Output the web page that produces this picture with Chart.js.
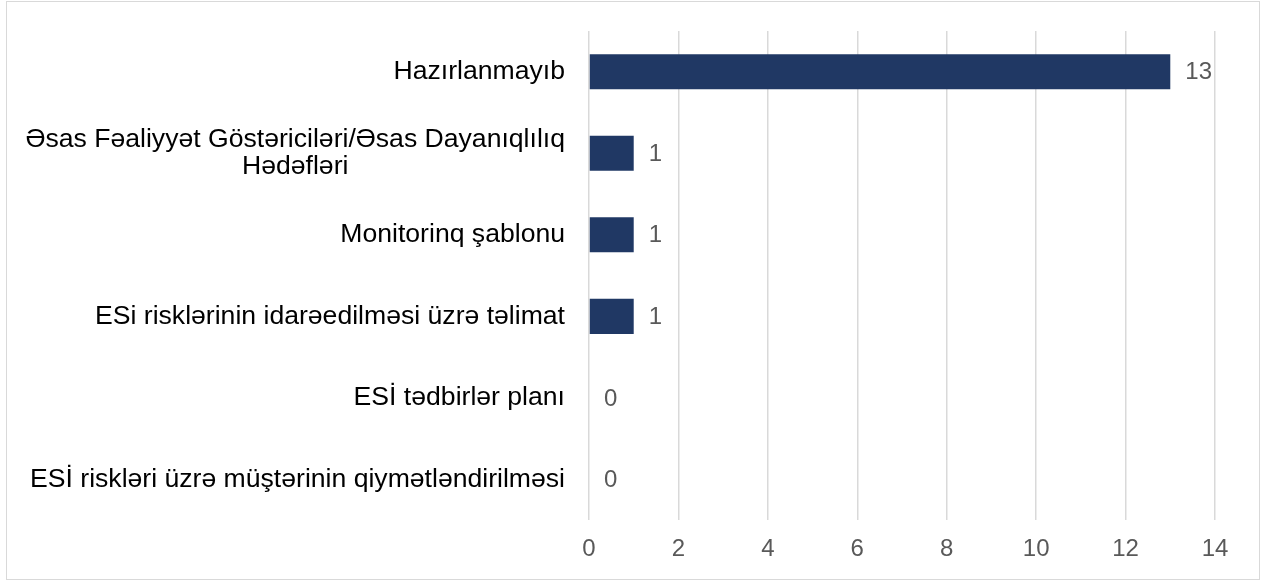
<!DOCTYPE html>
<html>
<head>
<meta charset="utf-8">
<script src="https://cdn.jsdelivr.net/npm/chart.js@4/dist/chart.umd.min.js"></script>
<style>
    body { margin: 0; background: #fff; }
    #frame {
        position: absolute; left: 6px; top: 1px;
        width: 1254px; height: 579px;
        border: 1px solid #d9d9d9; box-sizing: border-box;
    }
    #box { position: absolute; left: 0; top: 0; width: 1252px; height: 577px; }
</style>
</head>
<body>
<div id="frame"><div id="box"><canvas id="chart"></canvas></div></div>
<script>
// Données
const categories = [
    ['Hazırlanmayıb'],
    ['Əsas Fəaliyyət Göstəriciləri/Əsas Dayanıqlılıq', 'Hədəfləri'],
    ['Monitorinq şablonu'],
    ['ESi risklərinin idarəedilməsi üzrə təlimat'],
    ['ESİ tədbirlər planı'],
    ['ESİ riskləri üzrə müştərinin qiymətləndirilməsi']
];
const values = [13, 1, 1, 1, 0, 0];
const xTicks = [0, 2, 4, 6, 8, 10, 12, 14];

const FONT = '"Liberation Sans", Arial, sans-serif';

// --------------------------------------------------------------------------

// Libellés des catégories (lignes centrées entre elles, bloc aligné à droite)
const categoryLabels = {
    id: 'categoryLabels',
    afterDraw: chart => {
        const ctx = chart.ctx;
        const y = chart.scales.y;
        const right = chart.chartArea.left - 24;
        const lineH = 27;
        ctx.save();
        ctx.font = `26.6px ${FONT}`;
        ctx.fillStyle = '#000000';
        ctx.textAlign = 'center';
        ctx.textBaseline = 'middle';
        categories.forEach((lines, i) => {
            const cy = y.getPixelForValue(i);
            const maxW = Math.max(...lines.map(l => ctx.measureText(l).width));
            const cx = right - maxW / 2;
            const top = cy - (lines.length - 1) * lineH / 2;
            lines.forEach((l, j) => ctx.fillText(l, cx, top + j * lineH));
        });
        ctx.restore();
    }
};

// Valeurs au bout des barres
const valueLabels = {
    id: 'valueLabels',
    afterDatasetsDraw: chart => {
        const ctx = chart.ctx;
        const meta = chart.getDatasetMeta(0);
        ctx.save();
        ctx.font = `24px ${FONT}`;
        ctx.fillStyle = '#595959';
        ctx.textAlign = 'left';
        ctx.textBaseline = 'middle';
        meta.data.forEach((bar, i) => {
            ctx.fillText(String(values[i]), bar.x + 15, bar.y + 1);
        });
        ctx.restore();
    }
};

// --------------------------------------------------------------------------

new Chart(document.getElementById('chart'), {
    type: 'bar',
    data: {
        labels: categories.map(c => c.join(' ')),
        datasets: [{
            data: values,
            backgroundColor: '#203864',
            borderWidth: 0,
            barPercentage: 0.43,
            categoryPercentage: 1
        }]
    },
    options: {
        indexAxis: 'y',
        responsive: true,
        maintainAspectRatio: false,
        animation: false,
        layout: { padding: { left: 582, right: 44, top: 29, bottom: 0 } },
        plugins: {
            legend: { display: false },
            tooltip: { enabled: false }
        },
        scales: {
            x: {
                min: 0,
                max: 14,
                afterBuildTicks: axis => {
                    axis.ticks = xTicks.map(v => ({ value: v }));
                },
                border: { display: false },
                grid: { color: '#d9d9d9', lineWidth: 1.5, drawTicks: false },
                ticks: {
                    padding: 15,
                    color: '#595959',
                    font: { family: FONT, size: 24 }
                }
            },
            y: {
                display: false
            }
        }
    },
    plugins: [categoryLabels, valueLabels]
});
</script>
</body>
</html>
